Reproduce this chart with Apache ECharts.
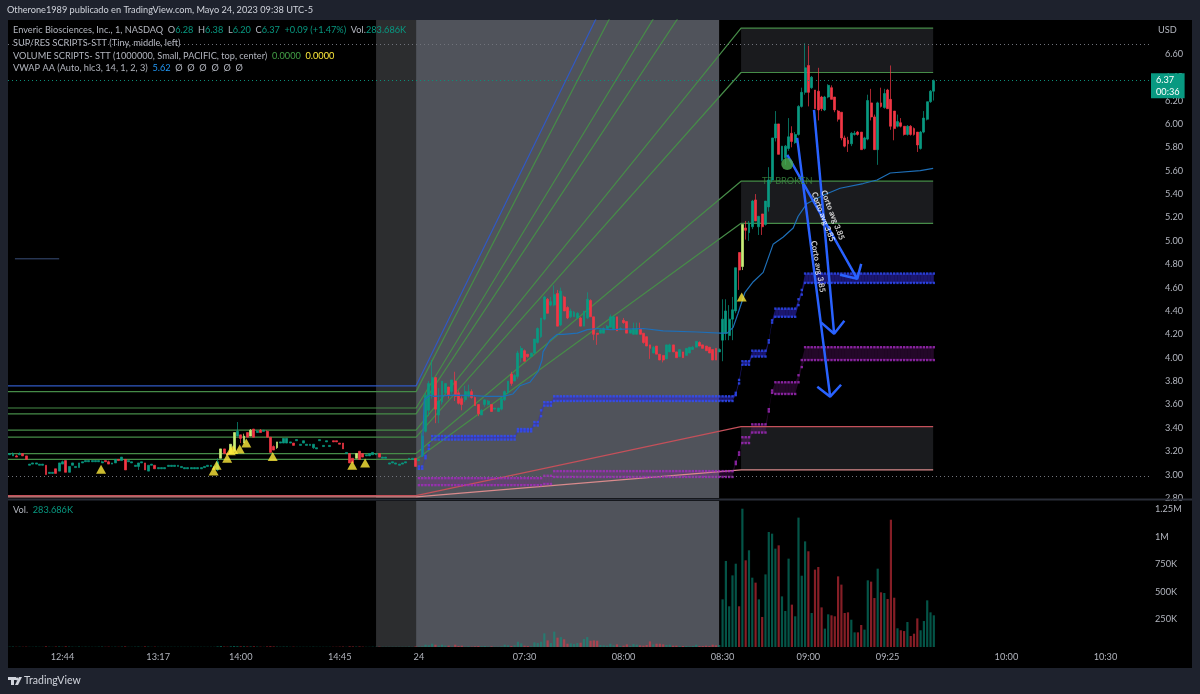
<!DOCTYPE html>
<html>
<head>
<meta charset="utf-8">
<title>ENVB 1m</title>
<script src="https://cdn.jsdelivr.net/npm/echarts@6/dist/echarts.min.js"></script>
<style>
html, body { margin: 0; padding: 0; background: #1e222d; }
#chart { width: 1200px; height: 694px; }
</style>
</head>
<body>
<div id="chart"></div>
<script>
// [open, close, low, high] per 1 minute bar
var priorDay = [
  [3.17,3.18,3.17,3.18],[3.16,3.18,3.16,3.19],[3.16,3.15,3.15,3.17],[3.17,3.18,3.17,3.19],[3.18,3.16,3.16,3.18],
  [3.16,3.13,3.13,3.16],[3.08,3.09,3.08,3.09],[3.09,3.10,3.09,3.10],[3.09,3.10,3.09,3.10],[3.08,3.09,3.08,3.09],
  [3.08,3.09,3.08,3.09],[3.08,3.00,3.00,3.08],[3.01,3.02,3.01,3.02],[3.01,3.02,3.01,3.02],[3.05,3.01,3.01,3.05],
  [3.03,3.10,3.03,3.10],[3.09,3.11,3.09,3.12],[3.12,3.02,3.02,3.12],[3.02,3.07,3.02,3.07],[3.08,3.10,3.08,3.10],
  [3.06,3.07,3.06,3.07],[3.06,3.10,3.06,3.10],[3.10,3.11,3.10,3.11],[3.11,3.12,3.11,3.12],[3.11,3.12,3.11,3.12],
  [3.11,3.12,3.11,3.12],[3.11,3.12,3.11,3.12],[3.11,3.12,3.11,3.12],[3.10,3.11,3.10,3.12],[3.12,3.11,3.11,3.12],
  [3.11,3.09,3.09,3.12],[3.09,3.10,3.09,3.10],[3.10,3.13,3.10,3.13],[3.13,3.12,3.12,3.13],[3.12,3.15,3.12,3.15],
  [3.13,3.04,3.04,3.13],[3.11,3.12,3.11,3.12],[3.10,3.11,3.10,3.11],[3.07,3.08,3.07,3.08],[3.07,3.10,3.04,3.10],
  [3.10,3.11,3.10,3.11],[3.10,3.04,3.04,3.10],[3.03,3.08,3.03,3.08],[3.08,3.09,3.08,3.09],[3.08,3.05,3.05,3.08],
  [3.05,3.06,3.05,3.06],[3.05,3.06,3.05,3.06],[3.05,3.06,3.05,3.06],[3.07,3.08,3.07,3.08],[3.07,3.08,3.07,3.08],
  [3.07,3.08,3.07,3.08],[3.07,3.08,3.07,3.08],[3.06,3.07,3.06,3.07],[3.05,3.06,3.05,3.06],[3.05,3.06,3.05,3.06],
  [3.05,3.06,3.05,3.06],[3.05,3.06,3.05,3.06],[3.05,3.06,3.05,3.06],[3.05,3.06,3.05,3.06],[3.06,3.07,3.06,3.07],
  [3.07,3.08,3.07,3.08],[3.07,3.08,3.07,3.08],[3.06,3.07,3.06,3.07],[3.04,3.11,3.03,3.14],[3.14,3.22,3.14,3.22],
  [3.22,3.18,3.18,3.22],[3.18,3.17,3.17,3.19],[3.18,3.26,3.18,3.26],[3.20,3.36,3.20,3.36],[3.33,3.37,3.33,3.45],
  [3.34,3.31,3.27,3.34],[3.27,3.33,3.27,3.35],[3.36,3.32,3.32,3.36],[3.33,3.38,3.33,3.39],[3.39,3.32,3.32,3.39],
  [3.36,3.37,3.36,3.38],[3.38,3.36,3.36,3.39],[3.37,3.38,3.37,3.38],[3.37,3.32,3.32,3.38],[3.32,3.19,3.19,3.32],
  [3.24,3.21,3.21,3.25],[3.23,3.28,3.22,3.28],[3.27,3.28,3.27,3.28],[3.27,3.31,3.27,3.31],[3.27,3.31,3.27,3.31],
  [3.27,3.28,3.27,3.28],[3.27,3.25,3.25,3.27],[3.29,3.30,3.29,3.30],[3.25,3.26,3.25,3.26],[3.27,3.29,3.27,3.29],
  [3.25,3.26,3.25,3.26],[3.25,3.26,3.25,3.26],[3.23,3.26,3.22,3.26],[3.22,3.23,3.22,3.23],[3.29,3.30,3.29,3.30],
  [3.24,3.25,3.24,3.25],[3.28,3.29,3.28,3.29],[3.24,3.25,3.24,3.25],[3.29,3.28,3.28,3.29],[3.29,3.28,3.28,3.29],
  [3.27,3.26,3.26,3.27],[3.27,3.22,3.22,3.27],[3.18,3.19,3.18,3.19],[3.18,3.10,3.10,3.18],[3.14,3.10,3.10,3.14],
  [3.14,3.18,3.14,3.18],[3.20,3.13,3.13,3.20],[3.18,3.15,3.15,3.18],[3.16,3.17,3.16,3.17],[3.16,3.18,3.16,3.18],
  [3.17,3.19,3.17,3.19],[3.17,3.18,3.17,3.18],[3.18,3.15,3.15,3.18],[3.14,3.15,3.14,3.15],[3.14,3.15,3.14,3.15],
  [3.09,3.10,3.09,3.10],[3.10,3.11,3.10,3.11],[3.09,3.10,3.09,3.10],[3.08,3.09,3.08,3.09],[3.09,3.10,3.09,3.10],
  [3.10,3.11,3.10,3.11],[3.13,3.14,3.13,3.14],[3.13,3.14,3.13,3.14],[3.14,3.07,3.07,3.14]
];
var preMarket = [
  [3.12,3.13,3.12,3.13],[3.16,3.33,3.15,3.36],[3.37,3.68,3.36,3.70],[3.55,3.78,3.50,3.80],[3.68,3.83,3.65,3.98],
  [3.83,3.56,3.44,3.83],[3.51,3.63,3.44,3.74],[3.62,3.80,3.60,3.80],[3.70,3.78,3.68,3.78],[3.75,3.68,3.65,3.75],
  [3.71,3.81,3.69,3.81],[3.80,3.67,3.63,3.88],[3.70,3.61,3.60,3.72],[3.65,3.60,3.55,3.67],[3.64,3.71,3.62,3.76],
  [3.67,3.71,3.66,3.77],[3.71,3.66,3.65,3.73],[3.66,3.59,3.59,3.67],[3.60,3.52,3.50,3.60],[3.51,3.55,3.51,3.56],
  [3.60,3.64,3.58,3.64],[3.60,3.63,3.59,3.64],[3.60,3.54,3.54,3.60],[3.56,3.57,3.56,3.57],[3.54,3.57,3.54,3.57],
  [3.56,3.65,3.55,3.66],[3.64,3.71,3.63,3.72],[3.70,3.80,3.69,3.80],[3.86,3.78,3.76,3.88],[3.80,3.85,3.80,3.86],
  [3.84,4.04,3.82,4.06],[4.00,4.08,3.96,4.10],[4.06,3.97,3.97,4.07],[4.03,4.01,4.00,4.03],[4.01,4.04,4.01,4.04],
  [4.04,4.16,4.03,4.16],[4.13,4.25,4.12,4.26],[4.18,4.34,4.17,4.34],[4.33,4.52,4.32,4.53],[4.50,4.38,4.38,4.51],
  [4.45,4.48,4.44,4.52],[4.45,4.54,4.44,4.62],[4.55,4.27,4.27,4.58],[4.28,4.57,4.27,4.60],[4.52,4.40,4.40,4.53],
  [4.43,4.34,4.33,4.44],[4.35,4.40,4.34,4.42],[4.35,4.39,4.35,4.40],[4.34,4.38,4.34,4.39],[4.34,4.27,4.27,4.35],
  [4.27,4.40,4.27,4.40],[4.34,4.50,4.33,4.56],[4.49,4.35,4.35,4.50],[4.35,4.20,4.15,4.35],[4.21,4.20,4.11,4.21],
  [4.21,4.24,4.21,4.25],[4.21,4.25,4.21,4.26],[4.25,4.27,4.25,4.28],[4.26,4.35,4.26,4.37],[4.24,4.35,4.24,4.36],
  [4.35,4.23,4.23,4.35],[4.24,4.25,4.24,4.26],[4.32,4.30,4.29,4.34],[4.31,4.21,4.21,4.31],[4.21,4.24,4.21,4.24],
  [4.20,4.25,4.20,4.30],[4.20,4.25,4.20,4.30],[4.25,4.20,4.20,4.30],[4.21,4.13,4.12,4.21],[4.18,4.10,4.10,4.18],
  [4.11,4.08,3.99,4.11],[4.04,4.09,4.04,4.10],[4.10,4.03,4.03,4.10],[4.03,3.98,3.98,4.03],[4.02,3.98,3.96,4.02],
  [3.99,4.11,3.99,4.11],[4.05,4.11,4.05,4.12],[4.11,4.05,4.05,4.11],[4.05,4.00,4.00,4.05],[4.01,4.07,4.01,4.07],
  [4.05,4.00,4.00,4.05],[4.02,4.08,4.02,4.08],[4.04,4.09,4.04,4.09],[4.07,4.09,4.07,4.10],[4.09,4.14,4.09,4.14],
  [4.13,4.10,4.10,4.14],[4.11,4.08,4.08,4.11],[4.10,4.06,4.06,4.10],[4.09,4.04,4.04,4.09],[4.07,3.98,3.98,4.07],
  [4.08,3.98,3.98,4.08],[4.05,4.07,4.05,4.08]
];
var regular = [
  [4.15,4.33,3.97,4.50],[4.21,4.40,4.15,4.50],[4.19,4.33,4.15,4.45],[4.33,4.41,4.15,4.52],[4.40,4.77,4.38,4.77],
  [4.90,4.75,4.58,4.90],[4.78,5.14,4.75,5.14],[5.11,5.09,5.01,5.17],[5.07,5.15,5.00,5.17],[5.12,5.34,5.10,5.35],
  [5.35,5.17,5.17,5.40],[5.12,5.21,5.05,5.21],[5.23,5.12,5.05,5.23],[5.14,5.34,5.13,5.34],[5.29,5.52,5.25,5.63],
  [5.52,5.88,5.50,5.88],[5.88,6.00,5.85,6.11],[6.00,5.74,5.74,6.00],[5.69,5.81,5.68,5.81],[5.71,5.81,5.65,5.82],
  [5.79,5.89,5.77,6.05],[5.92,5.85,5.80,5.98],[5.84,5.91,5.83,5.93],[5.91,6.15,5.90,6.16],[6.15,6.27,6.14,6.31],
  [6.27,6.48,6.25,6.69],[6.50,6.27,6.15,6.67],[6.31,6.40,6.30,6.41],[6.29,6.13,6.13,6.29],[6.28,6.12,6.03,6.48],
  [6.23,6.13,6.11,6.24],[6.12,6.23,6.11,6.24],[6.23,6.33,6.22,6.34],[6.31,6.21,6.21,6.33],[6.23,6.12,6.10,6.23],
  [6.11,6.04,6.02,6.12],[6.10,5.88,5.86,6.10],[5.88,5.81,5.80,5.90],[5.86,5.83,5.76,5.89],[5.83,5.92,5.81,5.93],
  [5.91,5.92,5.90,5.94],[5.93,5.91,5.90,5.94],[5.93,5.78,5.78,5.93],[5.79,5.88,5.78,5.89],[5.87,6.20,5.86,6.25],
  [6.18,6.06,6.03,6.30],[6.06,5.78,5.78,6.08],[5.78,6.18,5.65,6.19],[6.18,6.15,6.14,6.31],[6.14,6.26,6.13,6.30],
  [6.29,6.13,6.13,6.30],[6.21,5.98,5.95,6.50],[6.11,5.96,5.86,6.11],[5.98,6.02,5.97,6.08],[6.01,5.98,5.97,6.05],
  [5.98,5.91,5.90,5.98],[5.91,5.98,5.90,5.99],[5.98,5.91,5.90,5.99],[5.96,5.91,5.90,5.97],[5.93,5.82,5.76,5.93],
  [5.79,5.93,5.78,5.94],[5.93,6.05,5.92,6.11],[6.04,6.19,6.03,6.19],[6.19,6.28,6.18,6.29],[6.28,6.37,6.20,6.38]
];
// bars painted yellow-green by the volume script
var lightBars = [64, 67, 68, 71, 73, 81, 105, 222];

// volume, thousands
var priorVol = [
  3,4,2,3,2,3,2,2,3,2, 2,6,3,2,4,5,3,6,4,3, 2,4,2,3,2,2,2,3,4,2, 3,2,3,2,4,5,2,2,3,4,
  2,5,4,2,3,2,2,2,2,2, 2,2,2,2,2,2,2,2,2,2, 2,2,2,6,9,4,3,7,9,8, 6,7,5,6,6,4,3,2,5,7,
  5,4,3,4,4,2,3,2,2,2, 2,2,3,2,2,2,2,2,2,2, 3,4,2,6,5,4,5,3,2,2, 3,2,3,2,2,2,2,2,2,2,
  2,3,2,5
];
var preVol = [
  4,6,21,15,30,21,12,21,12,12, 4,21,9,12,3,6,3,6,9,6, 9,4,6,3,3,6,21,15,9,15,
  48,33,12,9,6,42,36,48,124,60, 36,140,85,90,70,30,33,27,36,39, 72,90,57,60,57,18,15,12,30,15,
  24,9,12,24,9,27,21,15,12,18, 51,24,30,30,24,18,21,12,12,9, 9,9,6,9,21,9,9,12,9,21,
  15,18
];
var regularVol = [
  433,782,370,651,757,370,1257,788,879,630, 585,433,273,660,1045,1030,894,924,460,327,
  803,385,279,1176,648,960,870,309,703,727, 360,167,297,288,279,642,567,309,315,248,
  133,133,200,158,606,594,445,712,497,491, 436,1157,448,170,152,145,227,100,121,260,
  152,236,424,315,288
];

// time axis labels, bar position and text
var tickIndex = [16, 45, 70, 100, 124, 156, 186, 216, 242, 266, 302, 332];
var tickText = ['12:44', '13:17', '14:00', '14:45', '24', '07:30', '08:00', '08:30', '09:00', '09:25', '10:00', '10:30'];
var slotCount = 346;

// fan levels: left flat part, value where the fan ends, colour
var fanLeft = [3.76, 3.71, 3.57, 3.52, 3.38, 3.32, 3.18, 3.13, 2.82, 2.81];
var fanRight = [9.43, 9.07, 8.13, 7.72, 6.82, 6.44, 5.51, 5.15, 3.41, 3.04];
var fanColor = ['#3159c4', '#468c48', '#468c48', '#468c48', '#468c48', '#468c48', '#468c48', '#468c48', '#c4505a', '#d98a8c'];
var fanStart = 123.14, fanEnd = 221.6, boxEnd = 279.8;
var boxes = [[6.82, 6.44], [5.51, 5.15], [3.41, 3.04]];

// session shading, in bar units
var darkZone = [111.01, 123.14];
var greyZone = [123.14, 214.95];

// VWAP line
var vwapIdx = [125,125.6,127.4,128.3,134.4,140.4,144.7,149.5,152.5,154.6,157.6,160.1,161.3,161.6,163.7,165.9,167.7,172,175,178,182,192,198,208.3,215.3,217.4,219.2,220.7,222.8,225.3,228.3,231.3,234.3,237.4,238.9,241.6,246.5,251.6,258.6,262.8,266.8,275.9,279.8];
var vwapVal = [3.15,3.64,3.68,3.67,3.68,3.675,3.67,3.67,3.69,3.76,3.79,3.88,3.98,4.05,4.15,4.20,4.20,4.21,4.24,4.25,4.24,4.25,4.23,4.22,4.21,4.21,4.26,4.38,4.56,4.65,4.73,4.97,5.03,5.11,5.21,5.32,5.39,5.45,5.49,5.52,5.58,5.60,5.62];

// VWAP bands: level holds from each start bar to the next one
var blueStart = [124,126,127,128,154,159,161,162,165,220,221,222,225,230,231,232,239,240,241];
var blueTop = [3.07,3.16,3.25,3.33,3.39,3.45,3.55,3.62,3.67,3.70,3.81,3.97,4.06,4.15,4.32,4.42,4.50,4.58,4.72];
var blueBot = [3.05,3.14,3.22,3.30,3.37,3.42,3.50,3.59,3.63,3.68,3.78,3.94,4.01,4.13,4.30,4.35,4.45,4.54,4.64];
var purpleStart = [124,162,165,220,221,222,225,230,231,232,239,240,241];
var purpleTop = [2.97,2.99,3.03,3.11,3.19,3.32,3.43,3.56,3.72,3.79,3.85,3.98,4.09];
var purpleBot = [2.91,2.92,2.98,3.09,3.17,3.27,3.36,3.54,3.70,3.69,3.79,3.92,3.98];
var bandLastBar = 280;

// yellow signal triangles
var triIdx = [27.7,61.8,62.7,65.9,67,67.7,69.7,71.7,79.7,103.8,107.7,221.8];
var triVal = [3.045,3.03,3.08,3.14,3.205,3.215,3.22,3.27,3.155,3.08,3.10,4.52];

// drawn arrows: start, tip, wing, tip, wing
var arrowIdx = [
  [238.6,248.6,244.7,248.6,251.9],
  [243.7,249.8,245.9,249.8,252.9],
  [235.6,256.8,251.6,256.8,258]
];
var arrowVal = [
  [5.88,3.667,3.752,3.667,3.769],
  [6.12,4.205,4.30,4.205,4.316],
  [5.735,4.675,4.71,4.675,4.803]
];
var arrowText = 'Corto avg 3.85';
var arrowLabels = [[244.95, 4.78, -80], [249.4, 5.22, -69], [246.5, 5.205, -69]];

var lastPrice = 6.37, dayHigh = 6.68, dayLow = 2.99;
var fontName = 'Lato, sans-serif';
var fontSize = 9.2;
var textGrey = '#b2b5be';
var upColor = '#089981', downColor = '#f23645', lightColor = '#c8ee78';

var candles = priorDay.concat(preMarket, regular);
var volumes = priorVol.concat(preVol, regularVol);

function buildCategories() {
  var cats = [];
  for (var i = 0; i < slotCount; i++) {
    var pos = tickIndex.indexOf(i);
    cats.push(pos >= 0 ? tickText[pos] : '');
  }
  return cats;
}

function expandBand(starts, tops, bots) {
  var rows = [];
  for (var s = 0; s < starts.length; s++) {
    var stop = s + 1 < starts.length ? starts[s + 1] : bandLastBar + 1;
    for (var i = starts[s]; i < stop; i++) {
      rows.push([i, tops[s], bots[s]]);
    }
  }
  return rows;
}

function zip(xs, ys) {
  var out = [];
  for (var i = 0; i < xs.length; i++) { out.push([xs[i], ys[i]]); }
  return out;
}

function bandFillSeries(rows, color) {
  return {
    type: 'custom',
    xAxisIndex: 0, yAxisIndex: 0,
    silent: true,
    z: 1,
    data: rows,
    clip: true,
    encode: { x: 0, y: [1, 2] },
    renderItem: function (params, api) {
      var next = rows[params.dataIndex + 1];
      if (!next) { return null; }
      var a = api.coord([api.value(0), api.value(1)]);
      var b = api.coord([api.value(0), api.value(2)]);
      var c = api.coord([next[0], next[2]]);
      var d = api.coord([next[0], next[1]]);
      return {
        type: 'polygon',
        shape: { points: [a, d, c, b] },
        style: { fill: color }
      };
    }
  };
}

function bandDotSeries(rows, color) {
  var pts = [];
  for (var i = 0; i < rows.length; i++) {
    pts.push([rows[i][0], rows[i][1]]);
    pts.push([rows[i][0], rows[i][2]]);
  }
  return {
    type: 'scatter',
    xAxisIndex: 0, yAxisIndex: 0,
    symbol: 'rect',
    symbolSize: 2.4,
    silent: true,
    z: 3,
    itemStyle: { color: color },
    data: pts
  };
}

function zoneMark(boxList) {
  var data = [];
  for (var i = 0; i < boxList.length; i++) {
    data.push([{ xAxis: boxList[i][0], itemStyle: { color: boxList[i][2] } }, { xAxis: boxList[i][1] }]);
  }
  return { silent: true, data: data };
}

function candleData() {
  var rows = [];
  for (var i = 0; i < candles.length; i++) {
    if (lightBars.indexOf(i) >= 0) {
      rows.push({ value: candles[i], itemStyle: { color: lightColor, color0: lightColor, borderColor: lightColor, borderColor0: lightColor } });
    } else {
      rows.push(candles[i]);
    }
  }
  return rows;
}

function volumeData() {
  var rows = [];
  for (var i = 0; i < volumes.length; i++) {
    var up = candles[i][1] >= candles[i][0];
    rows.push({ value: volumes[i] * 1000, itemStyle: { color: up ? 'rgba(8,153,129,0.55)' : 'rgba(242,54,69,0.55)' } });
  }
  return rows;
}

var categories = buildCategories();
var blueRows = expandBand(blueStart, blueTop, blueBot);
var purpleRows = expandBand(purpleStart, purpleTop, purpleBot);

var series = [];

// session shading and level boxes
series.push({
  type: 'line', xAxisIndex: 1, yAxisIndex: 0, data: [], silent: true,
  markArea: zoneMark([[darkZone[0], darkZone[1], '#2c2d2f'], [greyZone[0], greyZone[1], '#50535b']])
});
series.push({
  type: 'line', xAxisIndex: 3, yAxisIndex: 1, data: [], silent: true,
  markArea: zoneMark([[darkZone[0], darkZone[1], '#2c2d2f'], [greyZone[0], greyZone[1], '#50535b']])
});
series.push({
  type: 'line', xAxisIndex: 1, yAxisIndex: 0, data: [], silent: true,
  markArea: {
    silent: true,
    itemStyle: { color: '#1a1b1e' },
    data: boxes.map(function (b) {
      return [{ xAxis: fanEnd, yAxis: b[0] }, { xAxis: boxEnd, yAxis: b[1] }];
    })
  }
});

// fan lines
for (var f = 0; f < fanLeft.length; f++) {
  series.push({
    type: 'line', xAxisIndex: 1, yAxisIndex: 0, showSymbol: false, silent: true, z: 1,
    lineStyle: { color: fanColor[f], width: 1.2 },
    data: [[-0.5, fanLeft[f]], [fanStart, fanLeft[f]], [fanEnd, fanRight[f]], [boxEnd, fanRight[f]]]
  });
}
// stray short line on the left
series.push({
  type: 'line', xAxisIndex: 1, yAxisIndex: 0, showSymbol: false, silent: true, z: 1,
  lineStyle: { color: '#3a4f7a', width: 1 },
  data: [[1.6, 4.846], [15, 4.846]]
});

series.push(bandFillSeries(blueRows, 'rgba(50,40,200,0.55)'));
series.push(bandFillSeries(purpleRows, 'rgba(140,30,160,0.25)'));
series.push(bandDotSeries(blueRows, '#2f4cff'));
series.push(bandDotSeries(purpleRows, '#a52bc0'));

// candles, with the high/low and last price lines
series.push({
  type: 'candlestick',
  xAxisIndex: 0, yAxisIndex: 0,
  barWidth: 2.4,
  z: 4,
  itemStyle: { color: upColor, color0: downColor, borderColor: upColor, borderColor0: downColor, borderWidth: 0.7 },
  data: candleData(),
  markLine: {
    silent: true,
    symbol: 'none',
    animation: false,
    data: [
      { yAxis: dayHigh, lineStyle: { color: '#70737b', type: [1, 3], width: 1 }, label: { show: false } },
      { yAxis: dayLow, lineStyle: { color: '#70737b', type: [1, 3], width: 1 }, label: { show: false } },
      {
        yAxis: lastPrice,
        lineStyle: { color: '#0b8f7a', type: [1, 3], width: 1 },
        label: {
          show: true, position: 'end', distance: 1, offset: [0, 5],
          formatter: lastPrice.toFixed(2) + '\n00:36',
          color: '#fff', backgroundColor: upColor,
          fontFamily: fontName, fontSize: fontSize, lineHeight: 12, padding: [1, 5, 0, 5], align: 'left'
        }
      }
    ]
  }
});

series.push({
  type: 'line', name: 'VWAP', xAxisIndex: 1, yAxisIndex: 0, showSymbol: false, silent: true, z: 5,
  lineStyle: { color: '#1e6fb8', width: 1.2 },
  data: zip(vwapIdx, vwapVal)
});

series.push({
  type: 'scatter', xAxisIndex: 1, yAxisIndex: 0, symbol: 'triangle', symbolSize: [10, 9], silent: true, z: 6,
  itemStyle: { color: '#ffeb3b' },
  data: zip(triIdx, triVal)
});

// hand drawn arrows and notes
for (var a = 0; a < arrowIdx.length; a++) {
  series.push({
    type: 'line', xAxisIndex: 1, yAxisIndex: 0, showSymbol: false, silent: true, z: 7,
    lineStyle: { color: '#2962ff', width: 2.5 },
    data: zip(arrowIdx[a], arrowVal[a])
  });
}
series.push({
  type: 'scatter', xAxisIndex: 1, yAxisIndex: 0, symbolSize: 0, silent: true, z: 8,
  data: arrowLabels.map(function (l) {
    return {
      value: [l[0], l[1]],
      label: {
        show: true, position: 'inside', rotate: l[2], formatter: arrowText,
        color: '#fff', fontFamily: fontName, fontSize: 8, fontWeight: 'bold'
      }
    };
  })
});
series.push({
  type: 'scatter', xAxisIndex: 1, yAxisIndex: 0, symbolSize: 12, silent: true, z: 8,
  itemStyle: { color: '#4caf50' },
  data: [[235.6, 5.658]]
});
series.push({
  type: 'scatter', xAxisIndex: 1, yAxisIndex: 0, symbolSize: 0, silent: true, z: 7,
  data: [{
    value: [235.6, 5.51],
    label: { show: true, position: 'inside', formatter: 'TT BROKEN', color: '#3c8f42', fontFamily: fontName, fontSize: fontSize }
  }]
});

series.push({
  type: 'bar', xAxisIndex: 2, yAxisIndex: 1, barWidth: 2.2, silent: true, z: 4,
  data: volumeData()
});

var legendRich = {
  t: { color: textGrey, fontFamily: fontName, fontSize: fontSize },
  v: { color: upColor, fontFamily: fontName, fontSize: fontSize },
  g: { color: '#43a047', fontFamily: fontName, fontSize: fontSize },
  y: { color: '#ffeb3b', fontFamily: fontName, fontSize: fontSize },
  b: { color: '#2196f3', fontFamily: fontName, fontSize: fontSize }
};

function legendLine(text, top) {
  return { text: text, left: 13, top: top, padding: 0, textStyle: { fontSize: fontSize, fontWeight: 'normal', rich: legendRich } };
}

var option = {
  animation: false,
  backgroundColor: '#1e222d',
  textStyle: { fontFamily: fontName },
  title: [
    { text: 'Otherone1989 publicado en TradingView.com, Mayo 24, 2023 09:38 UTC-5', left: 7, top: 6, padding: 0, textStyle: { color: '#d1d4dc', fontFamily: fontName, fontSize: fontSize, fontWeight: 'normal' } },
    legendLine('{t|Enveric Biosciences, Inc., 1, NASDAQ  O}{v|6.28}{t|  H}{v|6.38}{t|  L}{v|6.20}{t|  C}{v|6.37}{v|  +0.09 (+1.47%)}{t|  Vol.}{v|283.686K}', 26),
    legendLine('{t|SUP/RES SCRIPTS-STT (Tiny, middle, left)}', 39),
    legendLine('{t|VOLUME SCRIPTS- STT (1000000, Small, PACIFIC, top, center)}  {g|0.0000}  {y|0.0000}', 52),
    legendLine('{t|VWAP AA (Auto, hlc3, 14, 1, 2, 3)}  {b|5.62}  {t|Ø  Ø  Ø  Ø  Ø  Ø}', 64),
    legendLine('{t|Vol.}  {v|283.686K}', 506),
    { text: 'TradingView', left: 24, top: 675, padding: 0, textStyle: { color: '#d1d4dc', fontFamily: fontName, fontSize: 10.5, fontWeight: 'normal' } },
    { text: 'USD', left: 1158, top: 26, padding: 0, textStyle: { color: textGrey, fontFamily: fontName, fontSize: fontSize, fontWeight: 'normal' } }
  ],
  graphic: [
    { type: 'rect', z: -1, shape: { x: 8, y: 20, width: 1184, height: 648 }, style: { fill: '#000' } },
    { type: 'line', z: 9, shape: { x1: 8, y1: 499.5, x2: 1192, y2: 499.5 }, style: { stroke: '#2a2e39', lineWidth: 2 } },
    { type: 'rect', z: 9, shape: { x: 8, y: 677, width: 8, height: 3 }, style: { fill: '#d1d4dc' } },
    { type: 'rect', z: 9, shape: { x: 11, y: 677, width: 3, height: 8 }, style: { fill: '#d1d4dc' } },
    { type: 'circle', z: 9, shape: { cx: 17, cy: 679, r: 1.4 }, style: { fill: '#d1d4dc' } },
    { type: 'polygon', z: 9, shape: { points: [[19, 677], [22, 677], [18, 685], [15, 685]] }, style: { fill: '#d1d4dc' } }
  ],
  grid: [
    { left: 8, top: 20, width: 1142, height: 478 },
    { left: 8, top: 501, width: 1142, height: 146 }
  ],
  xAxis: [
    { type: 'category', gridIndex: 0, data: categories, axisLine: { show: false }, axisTick: { show: false }, axisLabel: { show: false }, splitLine: { show: false } },
    { type: 'value', gridIndex: 0, min: -0.5, max: slotCount - 0.5, show: false, splitLine: { show: false } },
    {
      type: 'category', gridIndex: 1, data: categories,
      axisLine: { show: false }, axisTick: { show: false }, splitLine: { show: false },
      axisLabel: { color: textGrey, fontFamily: fontName, fontSize: fontSize, interval: 0, margin: 6, hideOverlap: false }
    },
    { type: 'value', gridIndex: 1, min: -0.5, max: slotCount - 0.5, show: false, splitLine: { show: false } }
  ],
  yAxis: [
    {
      type: 'value', gridIndex: 0, position: 'right', min: 2.8, max: 6.889, interval: 0.2,
      axisLine: { show: false }, axisTick: { show: false }, splitLine: { show: false },
      axisLabel: {
        color: textGrey, fontFamily: fontName, fontSize: fontSize, margin: 15, showMaxLabel: false,
        formatter: function (v) { return v > 6.7 ? '' : v.toFixed(2); }
      }
    },
    {
      type: 'value', gridIndex: 1, position: 'right', min: 0, max: 1327000, interval: 250000,
      axisLine: { show: false }, axisTick: { show: false }, splitLine: { show: false },
      axisLabel: {
        color: textGrey, fontFamily: fontName, fontSize: fontSize, margin: 5, showMinLabel: false, showMaxLabel: false,
        formatter: function (v) {
          return v >= 1000000 ? (v / 1000000) + 'M' : (v / 1000) + 'K';
        }
      }
    }
  ],
  series: series
};

var chart = echarts.init(document.getElementById('chart'));
chart.setOption(option);
</script>
</body>
</html>
